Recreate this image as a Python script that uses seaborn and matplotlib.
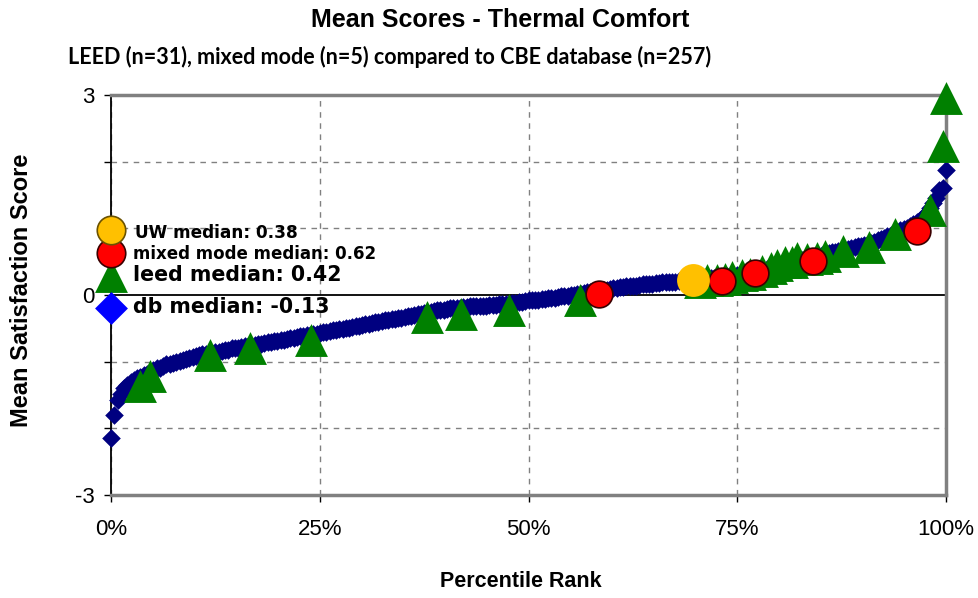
import numpy as np
import pandas as pd
import seaborn as sns
import matplotlib.pyplot as plt
from matplotlib.ticker import FixedLocator, PercentFormatter

######### data #######################################
# CBE database building means, sorted (n=257)
db_scores = [
    -2.15, -1.80, -1.57, -1.48, -1.40, -1.35, -1.31, -1.28, -1.25, -1.23,
    -1.20, -1.18, -1.15, -1.13, -1.10, -1.09, -1.07, -1.04, -1.03, -1.02,
    -1.00, -0.99, -0.97, -0.96, -0.95, -0.93, -0.92, -0.90, -0.89, -0.89,
    -0.88, -0.87, -0.86, -0.85, -0.84, -0.83, -0.82, -0.80, -0.80, -0.79,
    -0.78, -0.77, -0.77, -0.76, -0.75, -0.74, -0.73, -0.72, -0.71, -0.70,
    -0.69, -0.69, -0.68, -0.67, -0.66, -0.65, -0.64, -0.63, -0.62, -0.61,
    -0.60, -0.60, -0.59, -0.58, -0.57, -0.56, -0.55, -0.54, -0.53, -0.52,
    -0.51, -0.51, -0.50, -0.49, -0.48, -0.47, -0.46, -0.45, -0.44, -0.43,
    -0.42, -0.41, -0.40, -0.39, -0.38, -0.37, -0.36, -0.36, -0.35, -0.34,
    -0.33, -0.32, -0.31, -0.30, -0.29, -0.28, -0.27, -0.26, -0.25, -0.24,
    -0.23, -0.22, -0.22, -0.21, -0.20, -0.20, -0.19, -0.19, -0.18, -0.18,
    -0.17, -0.17, -0.17, -0.16, -0.16, -0.16, -0.15, -0.15, -0.15, -0.14,
    -0.14, -0.13, -0.13, -0.12, -0.12, -0.11, -0.10, -0.09, -0.08, -0.08,
    -0.07, -0.07, -0.06, -0.06, -0.05, -0.05, -0.04, -0.03, -0.02, -0.02,
    -0.01, 0.00, 0.00, 0.01, 0.02, 0.03, 0.04, 0.05, 0.05, 0.06,
    0.07, 0.08, 0.08, 0.09, 0.10, 0.11, 0.12, 0.12, 0.13, 0.13,
    0.14, 0.14, 0.15, 0.16, 0.16, 0.17, 0.17, 0.18, 0.18, 0.19,
    0.19, 0.20, 0.20, 0.20, 0.21, 0.21, 0.22, 0.22, 0.22, 0.23,
    0.23, 0.24, 0.24, 0.25, 0.25, 0.26, 0.26, 0.27, 0.27, 0.28,
    0.29, 0.29, 0.30, 0.31, 0.32, 0.33, 0.34, 0.35, 0.36, 0.37,
    0.38, 0.39, 0.40, 0.41, 0.42, 0.43, 0.44, 0.45, 0.47, 0.48,
    0.49, 0.51, 0.52, 0.53, 0.55, 0.56, 0.57, 0.59, 0.60, 0.62,
    0.63, 0.64, 0.65, 0.66, 0.67, 0.68, 0.69, 0.70, 0.72, 0.73,
    0.74, 0.75, 0.77, 0.78, 0.80, 0.82, 0.84, 0.86, 0.88, 0.90,
    0.92, 0.95, 0.97, 0.99, 1.01, 1.03, 1.06, 1.10, 1.13, 1.17,
    1.22, 1.30, 1.38, 1.46, 1.57, 1.60, 1.87,
]

# LEED buildings (n=31): percentile rank within database, mean score
leed_rank = [3.5, 4.7, 11.9, 16.6, 24.0, 37.8, 41.9, 47.7, 56.2, 70.5,
             71.4, 72.6, 73.5, 74.4, 75.6, 76.5, 78.0, 79.0, 79.8, 80.7,
             81.5, 82.2, 83.4, 84.6, 85.5, 87.7, 90.8, 93.9, 98.1, 99.6, 100.0]
leed_score = [-1.37, -1.22, -0.90, -0.79, -0.67, -0.33, -0.28, -0.22, -0.07, 0.20,
              0.22, 0.22, 0.24, 0.27, 0.30, 0.32, 0.36, 0.40, 0.45, 0.49,
              0.50, 0.55, 0.54, 0.55, 0.58, 0.66, 0.72, 0.92, 1.27, 2.24, 2.96]

# mixed mode buildings (n=5)
mixed_rank = [58.4, 73.2, 77.1, 84.1, 96.5]
mixed_score = [0.01, 0.21, 0.33, 0.51, 0.96]

# UW building
uw_rank = [69.7]
uw_score = [0.22]

legend_labels = ["UW median: 0.38", "mixed mode median: 0.62",
                 "leed median: 0.42", "db median: -0.13"]

######### plot ####################
sns.set_style("white")
plt.rcParams['font.family'] = ['Liberation Sans', 'DejaVu Sans']
plt.rcParams['axes.unicode_minus'] = False
plt.rcParams['text.color'] = 'black'
plt.rcParams['xtick.color'] = 'black'
plt.rcParams['ytick.color'] = 'black'

fig = plt.figure(figsize=(9.79, 5.98), dpi=100)
ax = fig.add_axes([0.1134, 0.1722, 0.8529, 0.6689])

db = pd.DataFrame({"rank": np.arange(len(db_scores)) / (len(db_scores) - 1),
                   "score": db_scores})
leed = pd.DataFrame({"rank": np.array(leed_rank) / 100, "score": leed_score})
mixed = pd.DataFrame({"rank": np.array(mixed_rank) / 100, "score": mixed_score})
uw = pd.DataFrame({"rank": np.array(uw_rank) / 100, "score": uw_score})

sns.scatterplot(data=db, x="rank", y="score", marker="D", s=90, color="#000080",
                linewidth=0, ax=ax, clip_on=False, zorder=3)
sns.scatterplot(data=leed, x="rank", y="score", marker="^", s=560, color="#008000",
                linewidth=0, ax=ax, clip_on=False, zorder=4)
sns.scatterplot(data=mixed, x="rank", y="score", marker="o", s=370, color="#FF0000",
                edgecolor="#3a0000", linewidth=1.2, ax=ax, clip_on=False, zorder=5)
sns.scatterplot(data=uw, x="rank", y="score", marker="o", s=560, color="#FFC000",
                linewidth=0, ax=ax, clip_on=False, zorder=6)

# hand-made legend sitting on the y axis
ax.scatter([0], [0.97], marker="o", s=420, color="#FFC000", edgecolor="#6b5200",
           linewidth=1.2, clip_on=False, zorder=9)
ax.scatter([0], [0.63], marker="o", s=420, color="#FF0000", edgecolor="#3a0000",
           linewidth=1.2, clip_on=False, zorder=8)
ax.scatter([0], [0.28], marker="^", s=560, color="#008000", linewidth=0,
           clip_on=False, zorder=7)
ax.scatter([0], [-0.19], marker="D", s=280, color="#0000FF", linewidth=0,
           clip_on=False, zorder=7)
ax.text(0.029, 0.93, legend_labels[0], fontsize=12.2, fontweight="bold",
        family="DejaVu Sans", va="center", zorder=10)
ax.text(0.026, 0.62, legend_labels[1], fontsize=12, fontweight="bold",
        family="DejaVu Sans", va="center", zorder=10)
ax.text(0.026, 0.30, legend_labels[2], fontsize=14.8, fontweight="bold",
        family="DejaVu Sans", va="center", zorder=10)
ax.text(0.026, -0.18, legend_labels[3], fontsize=14.8, fontweight="bold",
        family="DejaVu Sans", va="center", zorder=10)

ax.axhline(0, color="black", lw=1.3, zorder=2)

ax.set_xlim(0, 1)
ax.set_ylim(-3, 3)
ax.xaxis.set_major_locator(FixedLocator([0, 0.25, 0.5, 0.75, 1]))
ax.xaxis.set_major_formatter(PercentFormatter(1, decimals=0))
ax.yaxis.set_major_locator(FixedLocator([-3, 0, 3]))
ax.yaxis.set_minor_locator(FixedLocator([-2, -1, 1, 2]))
ax.grid(which="major", axis="x", color="#808080", linestyle=(0, (4, 4)), lw=1)
ax.grid(which="minor", axis="y", color="#808080", linestyle=(0, (4, 4)), lw=1)
ax.tick_params(axis="x", which="major", direction="out", length=5, width=1,
               color="black", labelcolor="black", pad=12, labelsize=16, bottom=True)
ax.tick_params(axis="y", which="both", direction="out", length=5, width=1,
               color="black", labelcolor="black", pad=7, labelsize=16, left=True)

for side in ["top", "right", "bottom"]:
    ax.spines[side].set_color("#808080")
    ax.spines[side].set_linewidth(2.5)
ax.spines["left"].set_color("black")
ax.spines["left"].set_linewidth(1.3)
ax.spines["left"].set_zorder(2.5)

ax.set_xlabel("")
ax.set_ylabel("")
fig.text(0.532, 0.027, "Percentile Rank", fontsize=15.5, fontweight="bold",
         color="black", ha="center", va="center")
fig.text(0.022, 0.515, "Mean Satisfaction Score", fontsize=17, fontweight="bold",
         color="black", rotation=90, ha="center", va="center")
fig.text(0.511, 0.967, "Mean Scores - Thermal Comfort", fontsize=18,
         fontweight="bold", color="black", ha="center", va="center")
fig.text(0.069, 0.904, "LEED (n=31), mixed mode (n=5) compared to CBE database (n=257)",
         fontsize=15.5, fontweight="bold", family="Lato", color="black",
         ha="left", va="center")

fig.savefig("out.png", dpi=100)
